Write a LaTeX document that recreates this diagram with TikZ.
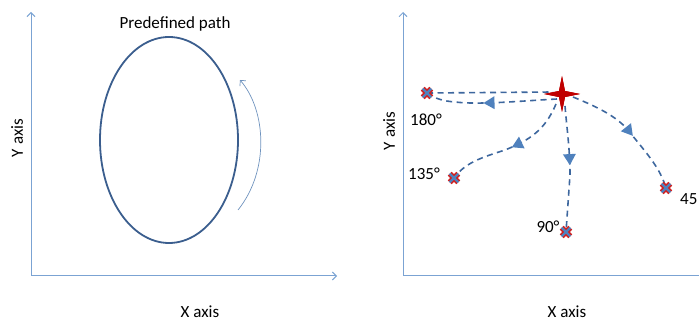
\documentclass[tikz,border=0pt]{standalone}
\usepackage{fontspec}
\setmainfont{Carlito}
\usetikzlibrary{arrows.meta,shapes.geometric,decorations.markings,calc}
\definecolor{axisblue}{HTML}{7BA3D3}
\definecolor{ellblue}{HTML}{3B5E8E}
\definecolor{dashblue}{HTML}{3D679E}
\definecolor{tipblue}{HTML}{4F81BD}
\definecolor{starred}{HTML}{C00000}
\definecolor{crossred}{HTML}{D02020}
\tikzset{
  axisline/.style={draw=axisblue, line width=1pt, -{Straight Barb[length=4pt,width=8pt]}},
  lbl/.style={font=\fontsize{17}{19}\selectfont, text=black, inner sep=0pt},
  route/.style={draw=dashblue, line width=1.6pt, dash pattern=on 6pt off 4.5pt},
  midtip/.style={postaction={decorate}, decoration={markings,
     mark=at position #1 with {\fill[tipblue] (5pt,0) -- (-6pt,6.5pt) -- (-6pt,-6.5pt) -- cycle;}}},
  starnode/.style={star, star points=4, star point ratio=4.2, fill=starred, minimum size=36pt, inner sep=0pt},
}
\newcommand{\crossmark}[1]{%
  \draw[crossred, line width=5.4pt] ($(#1)+(-4.3pt,-4.3pt)$) -- ($(#1)+(4.3pt,4.3pt)$) ($(#1)+(-4.3pt,4.3pt)$) -- ($(#1)+(4.3pt,-4.3pt)$);
  \draw[tipblue, line width=2.4pt] ($(#1)+(-4.3pt,-4.3pt)$) -- ($(#1)+(4.3pt,4.3pt)$) ($(#1)+(-4.3pt,4.3pt)$) -- ($(#1)+(4.3pt,-4.3pt)$);}
\begin{document}
\begin{tikzpicture}[x=1pt,y=-1pt]
\useasboundingbox (0,0) rectangle (699,323);
% ---------- left panel ----------
\coordinate (lo) at (31,276);
\coordinate (ly) at (31,12);
\coordinate (lx) at (337,276);
\draw[axisline] (lo) -- (ly);
\draw[axisline] (lo) -- (lx);
\node[lbl, rotate=90] (lyl) at (17,138) {Y axis};
\node[lbl] (lxl) at (200,312) {X axis};
\node[ellipse, draw=ellblue, line width=1.8pt, minimum width=138pt, minimum height=206pt, inner sep=0pt] (ell) at (169,140) {};
\node[lbl] (pp) at (175,24) {Predefined path};
\coordinate (a0) at (238,210);
\coordinate (a1) at (240,80);
\draw[axisblue!90!black, line width=0.7pt, -{Straight Barb[length=4pt,width=8pt]}] (a0) .. controls (270,170) and (266,110) .. (a1);
% ---------- right panel ----------
\coordinate (ro) at (403,276);
\coordinate (ry) at (403,12);
\coordinate (rx) at (702,276);
\draw[axisline] (ro) -- (ry);
\draw[draw=axisblue, line width=1pt] (ro) -- (rx);
\node[lbl, rotate=90] (ryl) at (389,131) {Y axis};
\node[lbl] (rxl) at (567,312) {X axis};
\coordinate (c180) at (427,93);
\coordinate (c135) at (454,178);
\coordinate (c90) at (566,232);
\coordinate (c45) at (666,188);
\node[starnode] (st) at (562,94) {};
% routes
\draw[route] (c180) -- (553,92);
\draw[route, midtip=0.52] (557,99) .. controls (520,101) and (480,105) .. (455,102) .. controls (443,101) and (436,99) .. (c180);
\draw[route, midtip=0.45] (556,104) .. controls (545,130) and (530,140) .. (505,150) .. controls (480,158) and (465,163) .. (c135);
\draw[route, midtip=0.43] (565,106) .. controls (567,130) and (570,150) .. (570,175) -- (c90);
\draw[route, midtip=0.5] (573,97) .. controls (600,108) and (620,118) .. (632,135) .. controls (648,155) and (660,168) .. (c45);
\crossmark{c180}
\crossmark{c135}
\crossmark{c90}
\crossmark{c45}
\node[starnode] at (st) {};
\node[lbl] (l180) at (426,120) {180°};
\node[lbl] (l135) at (424,174) {135°};
\node[lbl] (l90) at (548,227) {90°};
\node[lbl, anchor=west] (l45) at (680,199) {45};
\end{tikzpicture}
\end{document}
